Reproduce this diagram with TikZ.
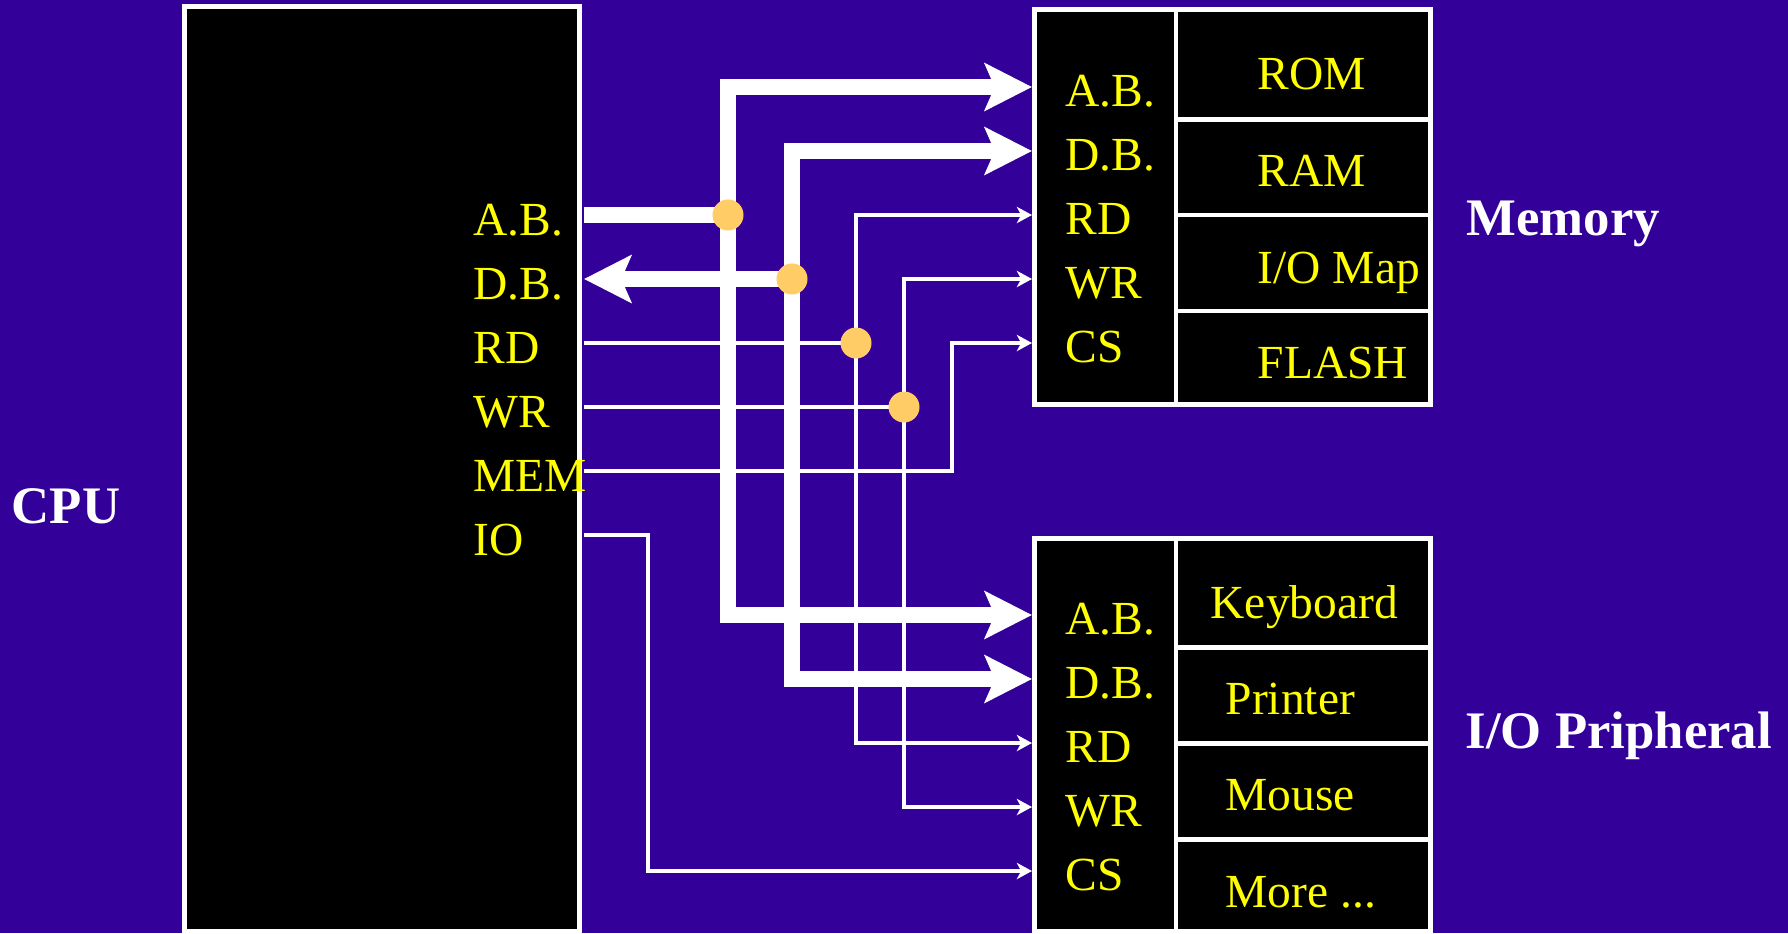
\documentclass[tikz,border=0pt]{standalone}
\usepackage{fontspec}
\setmainfont{Liberation Serif}
\usetikzlibrary{arrows.meta,calc}
\definecolor{slidebg}{HTML}{330099}
\definecolor{pinyellow}{HTML}{FFFF00}
\definecolor{joint}{HTML}{FFCC66}

\begin{document}
\begin{tikzpicture}[x=0.01cm,y=-0.01cm,
  panel/.style={draw=white,fill=black,line width=1.4pt,inner sep=0pt},
  grid/.style={draw=white,line width=1.4pt},
  pin/.style={text=pinyellow,anchor=base west,inner sep=0pt,
              font=\fontsize{13.5}{16}\selectfont},
  title/.style={text=white,anchor=base west,inner sep=0pt,
                font=\fontsize{15}{18}\selectfont\bfseries},
  bus/.style={draw=white,line width=4.6pt},
  sig/.style={draw=white,line width=1.3pt},
  bigtip/.tip={Stealth[length=13.4pt,width=13.4pt,inset=2.8pt]},
  smalltip/.tip={Stealth[length=4.3pt,width=4.6pt,inset=1.2pt]},
  dot/.style={circle,fill=joint,inner sep=0pt,minimum size=0.31cm}]
  \fill[slidebg] (0,0) rectangle (1788,933);
  \useasboundingbox (0,0) rectangle (1788,933);

  % boxes
  \node[panel,minimum width=3.95cm,minimum height=9.24cm] (cpu) at (382,469) {};
  \node[panel,minimum width=3.96cm,minimum height=3.95cm] (mem) at (1232.5,207) {};
  \node[panel,minimum width=3.96cm,minimum height=3.925cm] (io) at (1232.5,734.75) {};
  \draw[grid] (1176,9.5) -- (1176,404.5);
  \foreach \y in {119.5,215,311} \draw[grid] (1176,\y) -- (1430.5,\y);
  \draw[grid] (1176,538.5) -- (1176,931);
  \foreach \y in {647.5,743.5,839.5} \draw[grid] (1176,\y) -- (1430.5,\y);

  % labels
  \node[title] (cputitle) at (11,523) {CPU};
  \node[title] (memtitle) at (1466,235) {Memory};
  \node[title] (iotitle) at (1465,748) {I/O Pripheral};
  \foreach \t [count=\i] in {A.B.,D.B.,RD,WR,MEM,IO} {
    \node[pin] (c\i) at (473,{171+64*\i}) {\t};
    \coordinate (cp\i) at (584,{151+64*\i});
  }
  \foreach \t [count=\i] in {A.B.,D.B.,RD,WR,CS} {
    \node[pin] (m\i) at (1065,{42+64*\i}) {\t};
    \node[pin] (i\i) at (1065,{570+64*\i}) {\t};
    \coordinate (mp\i) at (1032,{23+64*\i});
    \coordinate (ip\i) at (1032,{551+64*\i});
  }
  \node[pin] (rom) at (1257,89) {ROM};
  \node[pin] (ram) at (1257,186) {RAM};
  \node[pin] (iomap) at (1257,283) {I/O Map};
  \node[pin] (flash) at (1257,378) {FLASH};
  \node[pin] (kbd) at (1210,618) {Keyboard};
  \node[pin] (prn) at (1225,714) {Printer};
  \node[pin] (mouse) at (1225,810) {Mouse};
  \node[pin] (more) at (1225,907) {More ...};

  % buses and signals
  \coordinate (jAB) at (728,215);
  \coordinate (jDB) at (792,279);
  \coordinate (jRD) at (856,343);
  \coordinate (jWR) at (904,407);
  \draw[bus] (cp1) -- (jAB);
  \draw[bus,bigtip-bigtip] (mp1) -- (mp1 -| jAB) -- (ip1 -| jAB) -- (ip1);
  \draw[bus,-bigtip] (jDB) -- (cp2);
  \draw[bus,bigtip-bigtip] (mp2) -- (mp2 -| jDB) -- (ip2 -| jDB) -- (ip2);
  \draw[sig] (cp3) -- (jRD);
  \draw[sig,smalltip-smalltip] (mp3) -- (mp3 -| jRD) -- (ip3 -| jRD) -- (ip3);
  \draw[sig] (cp4) -- (jWR);
  \draw[sig,smalltip-smalltip] (mp4) -- (mp4 -| jWR) -- (ip4 -| jWR) -- (ip4);
  \draw[sig,-smalltip] (cp5) -- ++(368,0) |- (mp5);
  \draw[sig,-smalltip] (cp6) -- ++(64,0) |- (ip5);
  \foreach \j in {AB,DB,RD,WR} \node[dot] (d\j) at (j\j) {};
\end{tikzpicture}
\end{document}
